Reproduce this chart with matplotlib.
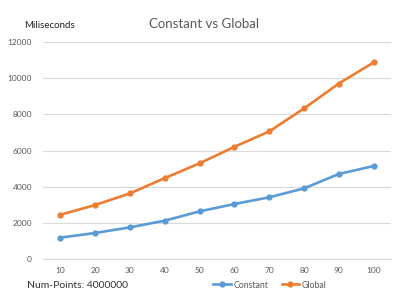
import numpy as np
import matplotlib.pyplot as plt
from matplotlib.lines import Line2D

# Data
categories = ['10', '20', '30', '40', '50', '60', '70', '80', '90', '100']
constant_ms = [1180, 1440, 1750, 2120, 2635, 3040, 3410, 3905, 4700, 5140]
global_ms = [2450, 2985, 3630, 4475, 5290, 6205, 7055, 8325, 9705, 10870]
y_ticks = [0, 2000, 4000, 6000, 8000, 10000, 12000]

BLUE = '#5B9BD5'
ORANGE = '#ED7D31'
GRID = '#D9D9D9'
TXT = '#595959'

plt.rcParams['font.family'] = ['Lato', 'DejaVu Sans']

fig = plt.figure(figsize=(4.15, 3.03), dpi=100)
ax = fig.add_axes([43 / 415, 1 - 259 / 303, 348 / 415, 217 / 303])

x = np.arange(len(categories))
ax.plot(x, constant_ms, color=BLUE, lw=1.9, marker='o', ms=3.5, label='Constant')
ax.plot(x, global_ms, color=ORANGE, lw=1.9, marker='o', ms=3.5, label='Global')

ax.set_xlim(-0.5, len(categories) - 0.5)
ax.set_ylim(0, 12000)
ax.set_xticks(x)
ax.set_xticklabels(categories)
ax.set_yticks(y_ticks)
ax.tick_params(axis='both', length=0, labelsize=6, colors=TXT)
ax.tick_params(axis='x', pad=6)
ax.tick_params(axis='y', pad=8)
ax.grid(axis='y', color=GRID, lw=0.8)
ax.set_axisbelow(True)
for side in ['top', 'right', 'left']:
    ax.spines[side].set_visible(False)
ax.spines['bottom'].set_color(GRID)

fig.text(204 / 415, 1 - 24 / 303, 'Constant vs Global', ha='center', va='center',
         fontsize=9.5, color=TXT)
fig.text(24 / 415, 1 - 26 / 303, 'Miliseconds', ha='left', va='center',
         fontsize=7, color='#222222')
fig.text(27 / 415, 1 - 285 / 303, 'Num-Points: 4000000', ha='left', va='center',
         fontsize=7.5, color='#333333')

handles = [Line2D([], [], color=BLUE, lw=1.9, marker='o', ms=3.5),
           Line2D([], [], color=ORANGE, lw=1.9, marker='o', ms=3.5)]
fig.legend(handles, ['Constant', 'Global'], loc='center', ncol=2,
           bbox_to_anchor=(270 / 415, 1 - 285 / 303), frameon=False,
           fontsize=6.3, labelcolor=TXT, handlelength=2.0, handletextpad=0.3,
           columnspacing=1.5)

fig.savefig('out.png', dpi=100)
